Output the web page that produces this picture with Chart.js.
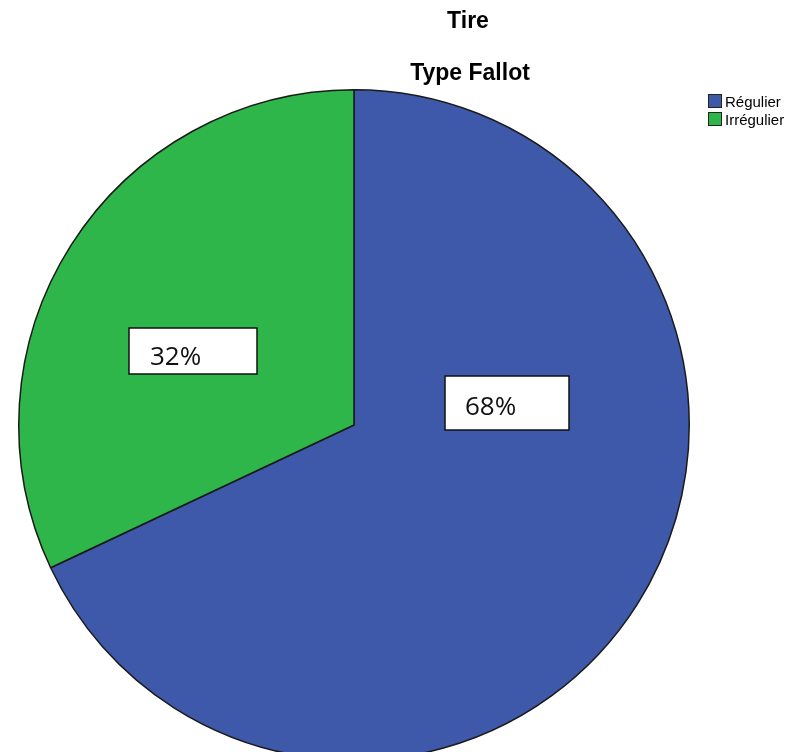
<!DOCTYPE html>
<html>
<head>
<meta charset="utf-8">
<script src="https://cdn.jsdelivr.net/npm/chart.js@4/dist/chart.umd.min.js"></script>
<style>
  html, body { margin: 0; padding: 0; background: #fff; overflow: hidden; }
</style>
</head>
<body>
<canvas id="pieChart" width="792" height="790"></canvas>
<script>
var categories = ['Régulier', 'Irrégulier'];
var percentValues = [68, 32];
var sliceColors = ['rgb(62, 88, 170)', 'rgb(47, 182, 74)'];
var titleLines = ['Tire', 'Type Fallot'];

// titles, legend and the white label boxes (SPSS style)
var decorPlugin = {
    id: 'decor',
    afterDraw: function(chart){
        var ctx = chart.ctx;
        var arc = chart.getDatasetMeta(0).data[0];
        var cx = arc.x, cy = arc.y;
        ctx.save();

        ctx.fillStyle = '#000';
        ctx.textAlign = 'center';
        ctx.textBaseline = 'alphabetic';
        ctx.font = 'bold 23px "Liberation Sans", Arial, sans-serif';
        ctx.fillText(titleLines[0], 468, 28);
        ctx.fillText(titleLines[1], 470, 80);

        // legend
        ctx.textAlign = 'left';
        ctx.font = '15px "Liberation Sans", Arial, sans-serif';
        categories.forEach(function(name, i){
            var y = 94 + i * 18;
            ctx.fillStyle = sliceColors[i];
            ctx.fillRect(708, y, 14, 14);
            ctx.strokeStyle = '#222';
            ctx.lineWidth = 1;
            ctx.strokeRect(708.5, y + 0.5, 13, 13);
            ctx.fillStyle = '#000';
            ctx.fillText(name, 725, y + 13);
        });

        // value boxes, placed relative to the pie centre
        var boxes = [
            {dx: 91, dy: -49, w: 124, h: 54, tx: 20, ty: 39},
            {dx: -225, dy: -97, w: 128, h: 46, tx: 21, ty: 37}
        ];
        ctx.font = '26px "Open Sans", sans-serif';
        percentValues.forEach(function(v, i){
            var b = boxes[i];
            var x = Math.round(cx + b.dx), y = Math.round(cy + b.dy);
            ctx.fillStyle = '#fff';
            ctx.fillRect(x, y, b.w, b.h);
            ctx.strokeStyle = '#111';
            ctx.lineWidth = 1.5;
            ctx.strokeRect(x, y, b.w, b.h);
            ctx.fillStyle = '#111';
            ctx.fillText(v + '%', x + b.tx, y + b.ty);
        });
        ctx.restore();
    }
};

var pieConfig = {
    type: 'pie',
    data: {
        labels: categories,
        datasets: [{
            data: percentValues,
            backgroundColor: sliceColors,
            borderColor: '#1a1a1a',
            borderWidth: 1.5,
            borderJoinStyle: 'miter'
        }]
    },
    options: {
        responsive: false,
        animation: false,
        layout: {
            padding: {left: 16, right: 100, top: 89, bottom: 29}
        },
        plugins: {
            legend: { display: false },
            tooltip: { enabled: false }
        }
    },
    plugins: [decorPlugin]
};

window.onload = function(){
    var ctx = document.getElementById('pieChart').getContext('2d');
    window.pieChart = new Chart(ctx, pieConfig);
};
</script>
</body>
</html>
